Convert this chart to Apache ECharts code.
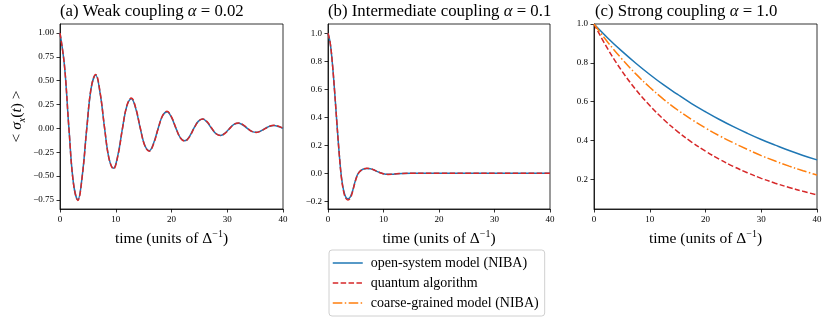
<!DOCTYPE html>
<html>
<head>
<meta charset="utf-8">
<script src="https://cdn.jsdelivr.net/npm/echarts@6/dist/echarts.min.js"></script>
<style>
  html, body { margin: 0; padding: 0; background: #fff; }
  #chart { width: 830px; height: 321px; }
</style>
</head>
<body>
<div id="chart"></div>
<script>
// panel (a) weak coupling, alpha = 0.02
var timeA = [0, 0.8, 1.6, 2.4, 3.2, 4.0, 4.8, 5.6, 6.4, 7.2, 8.0, 8.8, 9.6, 10.4, 11.2, 12.0, 12.8, 13.6, 14.4, 15.2,
  16.0, 16.8, 17.6, 18.4, 19.2, 20.0, 20.8, 21.6, 22.4, 23.2, 24.0, 24.8, 25.6, 26.4, 27.2, 28.0, 28.8, 29.6, 30.4,
  31.2, 32.0, 32.8, 33.6, 34.4, 35.2, 36.0, 36.8, 37.6, 38.4, 39.2, 40.0];
var openA = [1.000, 0.658, 0.000, -0.568, -0.748, -0.491, 0.000, 0.425, 0.559, 0.368, 0.000, -0.317, -0.418, -0.275,
  0.000, 0.238, 0.312, 0.205, 0.000, -0.177, -0.233, -0.153, 0.000, 0.133, 0.175, 0.115, 0.000, -0.099, -0.130, -0.086,
  0.000, 0.074, 0.098, 0.064, 0.000, -0.056, -0.073, -0.048, 0.000, 0.042, 0.055, 0.036, 0.000, -0.031, -0.041, -0.027,
  0.000, 0.023, 0.031, 0.020, 0.000];
var quantumA = [1.000, 0.660, 0.002, -0.572, -0.755, -0.497, -0.003, 0.430, 0.565, 0.374, 0.004, -0.320, -0.425, -0.282,
  -0.004, 0.240, 0.320, 0.212, 0.004, -0.180, -0.240, -0.160, -0.004, 0.134, 0.180, 0.121, 0.004, -0.100, -0.133, -0.091,
  -0.004, 0.074, 0.100, 0.069, 0.004, -0.056, -0.075, -0.052, -0.003, 0.042, 0.057, 0.040, 0.003, -0.031, -0.042, -0.030,
  -0.002, 0.023, 0.032, 0.023, 0.002];

// panel (b) intermediate coupling, alpha = 0.1
var timeB = [0, 0.4, 0.8, 1.2, 1.6, 2.0, 2.4, 2.8, 3.2, 3.6, 4.0, 4.4, 4.8, 5.2, 5.6, 6.0, 6.4, 7.0, 7.6, 8.2, 8.8,
  9.4, 10.0, 10.8, 11.6, 12.4, 13.4, 15, 20, 25, 30, 35, 40];
var openB = [1.0, 0.93, 0.78, 0.58, 0.36, 0.15, -0.02, -0.12, -0.17, -0.182, -0.17, -0.13, -0.07, -0.02, 0.008, 0.022,
  0.030, 0.034, 0.032, 0.025, 0.014, 0.005, -0.003, -0.007, -0.006, -0.003, -0.001, 0, 0, 0, 0, 0, 0];
var quantumB = [1.0, 0.93, 0.78, 0.58, 0.36, 0.15, -0.025, -0.128, -0.178, -0.19, -0.178, -0.135, -0.075, -0.025, 0.006,
  0.022, 0.031, 0.036, 0.033, 0.025, 0.014, 0.004, -0.004, -0.008, -0.007, -0.004, -0.001, 0, 0, 0, 0, 0, 0];

// panel (c) strong coupling, alpha = 1.0
var timeC = [0, 2.5, 5, 7.5, 10, 12.5, 15, 17.5, 20, 22.5, 25, 27.5, 30, 32.5, 35, 37.5, 40];
var openC = [1.000, 0.927, 0.860, 0.798, 0.740, 0.686, 0.637, 0.590, 0.548, 0.508, 0.471, 0.437, 0.405, 0.376, 0.348, 0.323, 0.300];
var quantumC = [1.000, 0.870, 0.758, 0.662, 0.580, 0.508, 0.446, 0.392, 0.345, 0.303, 0.266, 0.234, 0.205, 0.180, 0.158, 0.138, 0.120];
var coarseC = [1.000, 0.905, 0.820, 0.743, 0.674, 0.612, 0.557, 0.508, 0.464, 0.424, 0.388, 0.354, 0.322, 0.294, 0.268, 0.244, 0.222];

var xTicks = [0, 10, 20, 30, 40];
var yTicksA = [-0.75, -0.5, -0.25, 0, 0.25, 0.5, 0.75, 1.0];
var yTicksB = [-0.2, 0, 0.2, 0.4, 0.6, 0.8, 1.0];
var yTicksC = [0.2, 0.4, 0.6, 0.8, 1.0];

var serif = "'Liberation Serif', 'DejaVu Serif', serif";
var blue = "#1f77b4", red = "#d62728", orange = "#ff7f0e";
var nameOpen = "open-system model (NIBA)";
var nameQuantum = "quantum algorithm";
var nameCoarse = "coarse-grained model (NIBA)";

function zip(t, v) {
  var out = [];
  for (var i = 0; i < t.length; i++) out.push([t[i], v[i]]);
  return out;
}

function fmt(digits) {
  return function (v) {
    var s = Number(v).toFixed(digits);
    return s.replace("-", "\u2212");
  };
}

function xAxisFor(idx) {
  return {
    type: "value", gridIndex: idx, min: 0, max: 40,
    name: "{t|time (units of \u0394}{s|\u22121}{t|)}",
    nameLocation: "middle", nameGap: 20,
    nameTextStyle: {
      rich: {
        t: { fontFamily: serif, fontSize: 15.5, color: "#000", lineHeight: 20, verticalAlign: "middle" },
        s: { fontFamily: serif, fontSize: 10, color: "#000", lineHeight: 20, verticalAlign: "top", padding: [0, 0, 8, 0] }
      }
    },
    axisLine: { show: true, onZero: false, lineStyle: { color: "#000", width: 0.8 } },
    axisTick: { show: true, length: 3.5, customValues: xTicks, lineStyle: { color: "#000", width: 0.8 } },
    axisLabel: { customValues: xTicks, margin: 6, fontFamily: serif, fontSize: 9, color: "#000" },
    splitLine: { show: false }
  };
}

function yAxisFor(idx, min, max, ticks, digits) {
  return {
    type: "value", gridIndex: idx, min: min, max: max,
    axisLine: { show: true, onZero: false, lineStyle: { color: "#000", width: 0.8 } },
    axisTick: { show: true, length: 3.5, customValues: ticks, lineStyle: { color: "#000", width: 0.8 } },
    axisLabel: { customValues: ticks, margin: 6, fontFamily: serif, fontSize: 9, color: "#000", formatter: fmt(digits) },
    splitLine: { show: false }
  };
}

function line(name, idx, t, v, color, dash, z) {
  return {
    name: name, type: "line", xAxisIndex: idx, yAxisIndex: idx,
    data: zip(t, v), showSymbol: false, symbol: "none", smooth: 0.4, z: z,
    lineStyle: { color: color, width: 1.5, type: dash },
    itemStyle: { color: color }
  };
}

function titleFor(left, label, alpha) {
  return {
    left: left, top: 3, padding: 0,
    text: "{n|" + label + " }{i|\u03b1}{n| = " + alpha + "}",
    textStyle: {
      fontWeight: "normal",
      rich: {
        n: { fontFamily: serif, fontSize: 16.8, fontWeight: "normal", color: "#000" },
        i: { fontFamily: serif, fontSize: 16.8, fontWeight: "normal", color: "#000", fontStyle: "italic" }
      }
    }
  };
}

var grids = [
  { left: 60, top: 24, width: 223, height: 185 },
  { left: 328, top: 24, width: 222, height: 185 },
  { left: 594, top: 24, width: 223, height: 185 }
];
for (var g = 0; g < grids.length; g++) {
  grids[g].show = true;
  grids[g].borderColor = "#000";
  grids[g].borderWidth = 0.8;
  grids[g].outerBoundsMode = "none";
  grids[g].containLabel = false;
}

var option = {
  animation: false,
  backgroundColor: "#fff",
  title: [
    titleFor(60, "(a) Weak coupling", "0.02"),
    titleFor(328, "(b) Intermediate coupling", "0.1"),
    titleFor(595, "(c) Strong coupling", "1.0")
  ],
  grid: grids,
  xAxis: [xAxisFor(0), xAxisFor(1), xAxisFor(2)],
  yAxis: [
    yAxisFor(0, -0.845, 1.095, yTicksA, 2),
    yAxisFor(1, -0.255, 1.066, yTicksB, 1),
    yAxisFor(2, 0.047, 1.0, yTicksC, 1)
  ],
  legend: {
    orient: "vertical", left: 329, top: 250,
    padding: [6, 6, 6, 3], itemGap: 6, itemWidth: 30, itemHeight: 14,
    borderColor: "#d0d0d0", borderWidth: 1, borderRadius: 3,
    itemStyle: { opacity: 0 },
    lineStyle: { width: 1.5 },
    data: [nameOpen, nameQuantum, nameCoarse],
    textStyle: { fontFamily: serif, fontSize: 14, color: "#000", padding: [0, 0, 0, 3] }
  },
  graphic: [{
    type: "text", x: 17, y: 116.5, rotation: Math.PI / 2,
    style: {
      text: "{n|< }{i|\u03c3}{s|x}{n|(}{i|t}{n|) >}",
      align: "center", verticalAlign: "middle",
      rich: {
        n: { fontFamily: serif, fontSize: 15.5, fill: "#000", lineHeight: 20, verticalAlign: "middle" },
        i: { fontFamily: serif, fontSize: 15.5, fill: "#000", fontStyle: "italic", lineHeight: 20, verticalAlign: "middle" },
        s: { fontFamily: serif, fontSize: 10, fill: "#000", fontStyle: "italic", lineHeight: 20, verticalAlign: "bottom" }
      }
    }
  }],
  series: [
    line(nameOpen, 0, timeA, openA, blue, "solid", 2),
    line(nameQuantum, 0, timeA, quantumA, red, [5.5, 2.4], 3),
    line(nameOpen, 1, timeB, openB, blue, "solid", 2),
    line(nameQuantum, 1, timeB, quantumB, red, [5.5, 2.4], 3),
    line(nameOpen, 2, timeC, openC, blue, "solid", 2),
    line(nameQuantum, 2, timeC, quantumC, red, [5.5, 2.4], 3),
    line(nameCoarse, 2, timeC, coarseC, orange, [9.6, 2.4, 1.5, 2.4], 3)
  ]
};

var myChart = echarts.init(document.getElementById("chart"), null, { renderer: "canvas" });
myChart.setOption(option);
</script>
</body>
</html>
